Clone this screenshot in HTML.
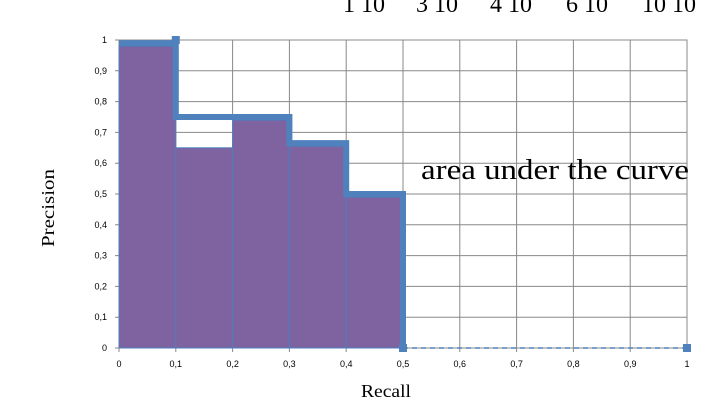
<!DOCTYPE html>
<html><head><meta charset="utf-8"><style>
html,body{margin:0;padding:0;background:#fff;width:710px;height:414px;overflow:hidden}
svg{display:block}
text{font-family:"Liberation Sans",sans-serif}
</style></head><body>
<svg id="c" width="710" height="414">
<g font-size="24" fill="#000">
<text x="343" y="12" style="font-family:'Liberation Serif',serif">1 10</text>
<text x="416" y="12" style="font-family:'Liberation Serif',serif">3 10</text>
<text x="490" y="12" style="font-family:'Liberation Serif',serif">4 10</text>
<text x="566" y="12" style="font-family:'Liberation Serif',serif">6 10</text>
<text x="642" y="12" style="font-family:'Liberation Serif',serif">10 10</text>
</g>
<g id="grid"></g><g id="bars"></g><g id="lines"></g><g id="ticks"></g>
<text x="421" y="179" font-size="28" textLength="268" lengthAdjust="spacingAndGlyphs" style="font-family:'Liberation Serif',serif">area under the curve</text>
<text x="54" y="208" font-size="18" text-anchor="middle" textLength="78" lengthAdjust="spacingAndGlyphs" transform="rotate(-90 54 208)" style="font-family:'Liberation Serif',serif">Precision</text>
<text x="386" y="397" font-size="18" text-anchor="middle" textLength="50" lengthAdjust="spacingAndGlyphs" style="font-family:'Liberation Serif',serif">Recall</text>
</svg>
<script>
const xTicks=[0,0.1,0.2,0.3,0.4,0.5,0.6,0.7,0.8,0.9,1];
const xTickLabels=["0","0,1","0,2","0,3","0,4","0,5","0,6","0,7","0,8","0,9","1"];
const yTicks=[0,0.1,0.2,0.3,0.4,0.5,0.6,0.7,0.8,0.9,1];
const yTickLabels=["0","0,1","0,2","0,3","0,4","0,5","0,6","0,7","0,8","0,9","1"];
const barStarts=[0,0.1,0.2,0.3,0.4];
const barHeights=[0.98,0.65,0.74,0.655,0.49];
const stepX=[0,0.1,0.1,0.3,0.3,0.4,0.4,0.5,0.5];
const stepY=[0.99,0.99,0.75,0.75,0.665,0.665,0.5,0.5,0];
const markerX=[0.1,0.5,1];
const markerY=[1,0,0];
const X=v=>119+v*568, Y=v=>348-v*308;
const NS="http://www.w3.org/2000/svg";
function mk(p,t,a){const e=document.createElementNS(NS,t);for(const k in a)e.setAttribute(k,a[k]);p.appendChild(e);return e;}
const g=document.getElementById('grid'),b=document.getElementById('bars'),l=document.getElementById('lines'),tk=document.getElementById('ticks');
mk(g,'rect',{x:X(0),y:Y(1),width:X(1)-X(0),height:Y(0)-Y(1),fill:'none',stroke:'#888'});
xTicks.forEach((v,i)=>{
 const e=mk(g,'line',{x1:X(v),x2:X(v),y1:Y(1),y2:Y(0)+4,stroke:'#888','stroke-width':1});
 
 
 const t=mk(tk,'text',{x:X(v),y:367,'font-size':9,'text-anchor':'middle',fill:'#000'});t.textContent=xTickLabels[i];
 
 
});
yTicks.forEach((v,i)=>{
 const e=mk(g,'line',{x1:X(0)-4,x2:X(1),y1:Y(v),y2:Y(v),stroke:'#888','stroke-width':1});
 
 
 const t=mk(tk,'text',{x:107,y:Y(v)+3,'font-size':9,'text-anchor':'end',fill:'#000'});t.textContent=yTickLabels[i];
 
 
});
barStarts.forEach((s,i)=>{
 const r=mk(b,'rect',{x:X(s),y:Y(barHeights[i]),width:X(s+0.1)-X(s),height:Y(0)-Y(barHeights[i]),fill:'#7f62a0',stroke:'#4a7fc0','stroke-width':1});
 
 
});
let d=stepX.map((v,i)=>(i?'L':'M')+X(v)+' '+Y(stepY[i])).join(' ');
const p=mk(l,'path',{d:d,fill:'none',stroke:'#4f81bd','stroke-width':6,'stroke-linejoin':'miter'});


const dl=mk(l,'line',{x1:X(0.5),y1:Y(0),x2:X(1),y2:Y(0),stroke:'#4f81bd','stroke-width':1.5,'stroke-dasharray':'5 4'});


markerX.forEach((v,i)=>{
 const m=mk(l,'rect',{x:X(v)-4,y:Y(markerY[i])-4,width:8,height:8,fill:'#4f81bd'});
 
 
});
</script>
</body></html>
